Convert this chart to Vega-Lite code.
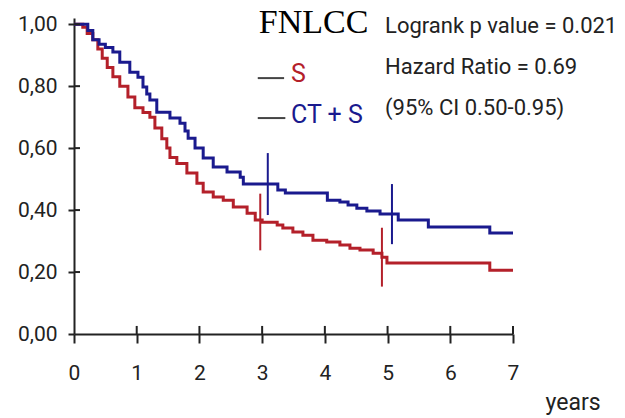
{
  "$schema": "https://vega.github.io/schema/vega-lite/v6.json",
  "autosize": {"type": "none"},
  "width": 439,
  "height": 316,
  "padding": {"left": 74, "top": 18, "right": 112, "bottom": 84},
  "background": "white",
  "config": {"view": {"stroke": null}},
  "datasets": {
    "curves": [
      {"group": "S", "t": 0, "S": 1.0},
      {"group": "S", "t": 0.14, "S": 0.99},
      {"group": "S", "t": 0.21, "S": 0.97},
      {"group": "S", "t": 0.30, "S": 0.95},
      {"group": "S", "t": 0.38, "S": 0.92},
      {"group": "S", "t": 0.45, "S": 0.89},
      {"group": "S", "t": 0.53, "S": 0.86},
      {"group": "S", "t": 0.62, "S": 0.83},
      {"group": "S", "t": 0.73, "S": 0.80},
      {"group": "S", "t": 0.86, "S": 0.765},
      {"group": "S", "t": 0.97, "S": 0.73},
      {"group": "S", "t": 1.10, "S": 0.715},
      {"group": "S", "t": 1.21, "S": 0.70},
      {"group": "S", "t": 1.29, "S": 0.665},
      {"group": "S", "t": 1.40, "S": 0.63},
      {"group": "S", "t": 1.48, "S": 0.60},
      {"group": "S", "t": 1.53, "S": 0.57},
      {"group": "S", "t": 1.64, "S": 0.55},
      {"group": "S", "t": 1.80, "S": 0.52},
      {"group": "S", "t": 1.96, "S": 0.487},
      {"group": "S", "t": 2.06, "S": 0.458},
      {"group": "S", "t": 2.22, "S": 0.442},
      {"group": "S", "t": 2.38, "S": 0.432},
      {"group": "S", "t": 2.54, "S": 0.41},
      {"group": "S", "t": 2.76, "S": 0.39},
      {"group": "S", "t": 2.89, "S": 0.368},
      {"group": "S", "t": 3.0, "S": 0.361},
      {"group": "S", "t": 3.24, "S": 0.352},
      {"group": "S", "t": 3.33, "S": 0.342},
      {"group": "S", "t": 3.49, "S": 0.329},
      {"group": "S", "t": 3.65, "S": 0.319},
      {"group": "S", "t": 3.81, "S": 0.303},
      {"group": "S", "t": 4.03, "S": 0.297},
      {"group": "S", "t": 4.24, "S": 0.287},
      {"group": "S", "t": 4.40, "S": 0.277},
      {"group": "S", "t": 4.56, "S": 0.271},
      {"group": "S", "t": 4.77, "S": 0.261},
      {"group": "S", "t": 4.91, "S": 0.248},
      {"group": "S", "t": 4.99, "S": 0.229},
      {"group": "S", "t": 6.63, "S": 0.206},
      {"group": "S", "t": 7.0, "S": 0.206},
      {"group": "CT + S", "t": 0, "S": 1.0},
      {"group": "CT + S", "t": 0.22, "S": 0.98},
      {"group": "CT + S", "t": 0.30, "S": 0.95},
      {"group": "CT + S", "t": 0.40, "S": 0.935},
      {"group": "CT + S", "t": 0.50, "S": 0.925},
      {"group": "CT + S", "t": 0.62, "S": 0.91},
      {"group": "CT + S", "t": 0.73, "S": 0.877},
      {"group": "CT + S", "t": 0.89, "S": 0.845},
      {"group": "CT + S", "t": 1.02, "S": 0.829},
      {"group": "CT + S", "t": 1.10, "S": 0.797},
      {"group": "CT + S", "t": 1.16, "S": 0.775},
      {"group": "CT + S", "t": 1.21, "S": 0.755},
      {"group": "CT + S", "t": 1.32, "S": 0.716},
      {"group": "CT + S", "t": 1.53, "S": 0.697},
      {"group": "CT + S", "t": 1.69, "S": 0.68},
      {"group": "CT + S", "t": 1.77, "S": 0.655},
      {"group": "CT + S", "t": 1.82, "S": 0.632},
      {"group": "CT + S", "t": 1.93, "S": 0.60},
      {"group": "CT + S", "t": 2.06, "S": 0.568},
      {"group": "CT + S", "t": 2.22, "S": 0.539},
      {"group": "CT + S", "t": 2.44, "S": 0.523},
      {"group": "CT + S", "t": 2.65, "S": 0.506},
      {"group": "CT + S", "t": 2.70, "S": 0.484},
      {"group": "CT + S", "t": 3.25, "S": 0.465},
      {"group": "CT + S", "t": 3.37, "S": 0.455},
      {"group": "CT + S", "t": 4.04, "S": 0.432},
      {"group": "CT + S", "t": 4.24, "S": 0.426},
      {"group": "CT + S", "t": 4.37, "S": 0.416},
      {"group": "CT + S", "t": 4.51, "S": 0.406},
      {"group": "CT + S", "t": 4.67, "S": 0.397},
      {"group": "CT + S", "t": 4.88, "S": 0.387},
      {"group": "CT + S", "t": 5.17, "S": 0.368},
      {"group": "CT + S", "t": 5.65, "S": 0.345},
      {"group": "CT + S", "t": 6.63, "S": 0.326},
      {"group": "CT + S", "t": 7.0, "S": 0.326}
    ],
    "censors": [
      {"group": "S", "t": 2.97, "lo": 0.27, "hi": 0.453},
      {"group": "S", "t": 4.91, "lo": 0.153, "hi": 0.343},
      {"group": "CT + S", "t": 3.09, "lo": 0.384, "hi": 0.584},
      {"group": "CT + S", "t": 5.07, "lo": 0.29, "hi": 0.484}
    ],
    "xticks": [
      {"t": 1}, {"t": 2}, {"t": 3}, {"t": 4}, {"t": 5}, {"t": 6}, {"t": 7}
    ],
    "yticks": [
      {"S": 0.2}, {"S": 0.4}, {"S": 0.6}, {"S": 0.8}, {"S": 1.0}
    ]
  },
  "layer": [
    {
      "data": {"name": "curves"},
      "mark": {"type": "line", "interpolate": "step-after", "strokeWidth": 3},
      "encoding": {
        "x": {
          "field": "t",
          "type": "quantitative",
          "scale": {"domain": [0, 7], "nice": false, "zero": false},
          "axis": {
            "values": [0, 1, 2, 3, 4, 5, 6, 7],
            "format": "d",
            "grid": false,
            "labelFlush": false,
            "domainColor": "#222222",
            "domainWidth": 2,
            "tickColor": "#222222",
            "tickWidth": 2,
            "tickSize": 9,
            "labelPadding": 19,
            "labelFont": "Roboto",
            "labelFontSize": 21,
            "labelColor": "#222222",
            "title": "years",
            "titleFont": "Roboto",
            "titleFontSize": 23,
            "titleFontWeight": "normal",
            "titleColor": "#222222",
            "titleAlign": "left",
            "titleBaseline": "alphabetic",
            "titleX": 471,
            "titleY": 75
          }
        },
        "y": {
          "field": "S",
          "type": "quantitative",
          "scale": {"domain": [0, 1.02], "nice": false},
          "axis": {
            "values": [0, 0.2, 0.4, 0.6, 0.8, 1.0],
            "labelExpr": "replace(format(datum.value, '.2f'), '.', ',')",
            "grid": false,
            "labelFlush": false,
            "domainColor": "#222222",
            "domainWidth": 2,
            "tickColor": "#222222",
            "tickWidth": 2,
            "tickSize": 6,
            "labelPadding": 11,
            "labelFont": "Roboto",
            "labelFontSize": 21,
            "labelColor": "#222222",
            "title": null
          }
        },
        "color": {
          "field": "group",
          "type": "nominal",
          "scale": {"domain": ["S", "CT + S"], "range": ["#b4202a", "#1a1a8e"]},
          "legend": null
        }
      }
    },
    {
      "data": {"name": "censors"},
      "mark": {"type": "rule", "strokeWidth": 2},
      "encoding": {
        "x": {"field": "t", "type": "quantitative"},
        "y": {"field": "lo", "type": "quantitative"},
        "y2": {"field": "hi"},
        "color": {"field": "group", "type": "nominal", "legend": null}
      }
    },
    {
      "data": {"name": "xticks"},
      "mark": {"type": "rule", "strokeWidth": 2, "color": "#222222"},
      "encoding": {
        "x": {"field": "t", "type": "quantitative"},
        "y": {"datum": 0},
        "y2": {"datum": 0.026}
      }
    },
    {
      "data": {"name": "yticks"},
      "mark": {"type": "rule", "strokeWidth": 2, "color": "#222222"},
      "encoding": {
        "y": {"field": "S", "type": "quantitative"},
        "x": {"datum": 0},
        "x2": {"datum": 0.096}
      }
    },
    {
      "data": {"values": [{"label": "FNLCC"}]},
      "mark": {"type": "text", "font": "Liberation Serif", "fontSize": 34, "color": "#000000", "align": "center", "baseline": "alphabetic"},
      "encoding": {
        "x": {"datum": 3.82},
        "y": {"datum": 0.971},
        "text": {"field": "label"}
      }
    },
    {
      "data": {"values": [{"group": "S"}]},
      "mark": {"type": "rule", "strokeWidth": 2, "color": "#444444"},
      "encoding": {
        "x": {"datum": 2.93},
        "x2": {"datum": 3.35},
        "y": {"datum": 0.826}
      }
    },
    {
      "data": {"values": [{"group": "CT + S"}]},
      "mark": {"type": "rule", "strokeWidth": 2, "color": "#444444"},
      "encoding": {
        "x": {"datum": 2.93},
        "x2": {"datum": 3.37},
        "y": {"datum": 0.697}
      }
    },
    {
      "data": {"values": [{"group": "S"}]},
      "mark": {"type": "text", "font": "Roboto", "fontSize": 25, "align": "left", "baseline": "alphabetic"},
      "encoding": {
        "x": {"datum": 3.46},
        "y": {"datum": 0.813},
        "text": {"field": "group"},
        "color": {"field": "group", "type": "nominal", "legend": null}
      }
    },
    {
      "data": {"values": [{"group": "CT + S"}]},
      "mark": {"type": "text", "font": "Roboto", "fontSize": 25, "align": "left", "baseline": "alphabetic"},
      "encoding": {
        "x": {"datum": 3.46},
        "y": {"datum": 0.681},
        "text": {"field": "group"},
        "color": {"field": "group", "type": "nominal", "legend": null}
      }
    },
    {
      "data": {"values": [{"label": ["Logrank p value = 0.021", "Hazard Ratio = 0.69", "(95% CI 0.50-0.95)"]}]},
      "mark": {"type": "text", "font": "Roboto", "fontSize": 22, "lineHeight": 41, "color": "#222222", "align": "left", "baseline": "alphabetic"},
      "encoding": {
        "x": {"datum": 4.96},
        "y": {"datum": 0.971},
        "text": {"field": "label"}
      }
    }
  ]
}
